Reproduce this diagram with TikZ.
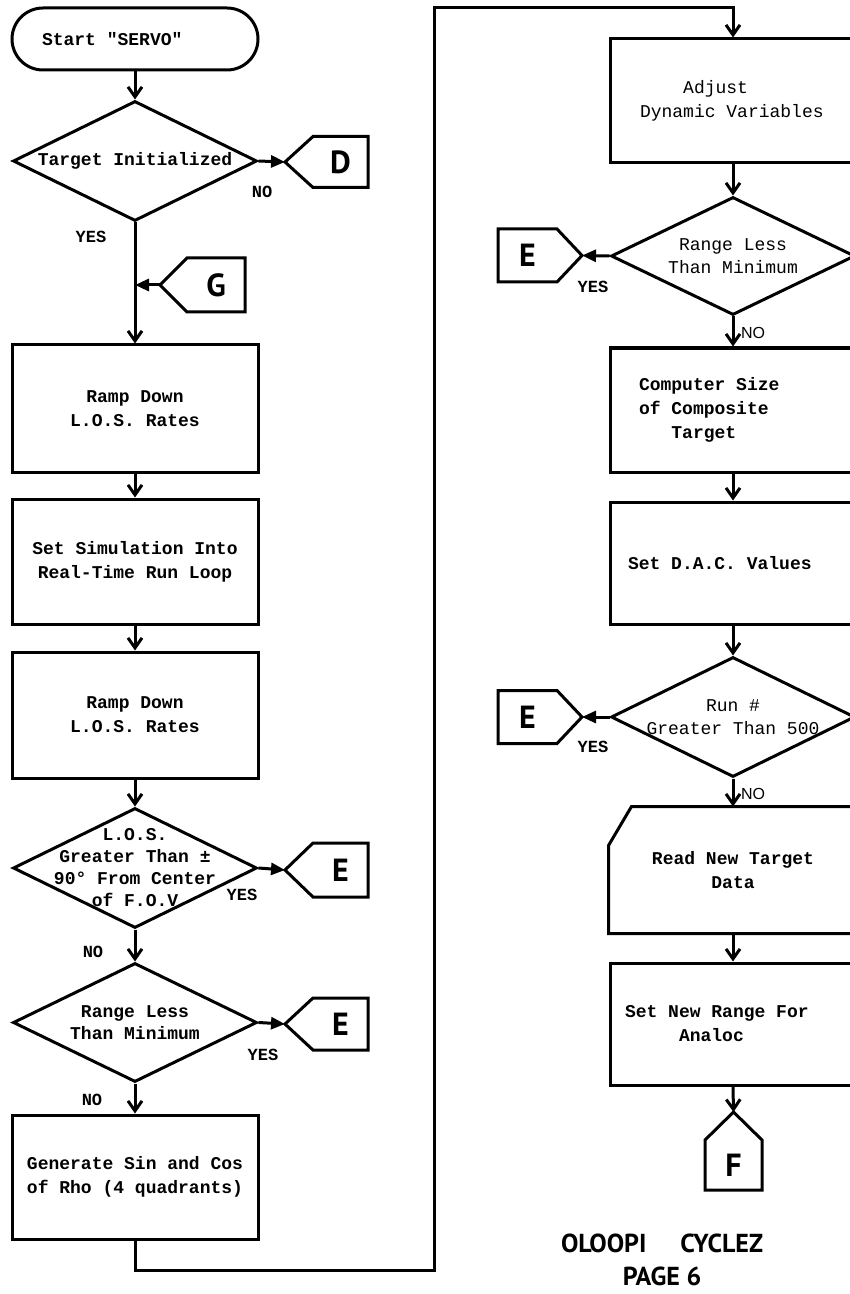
\documentclass[tikz,border=0pt]{standalone}
\usepackage{fontspec}
\setmonofont{Liberation Mono}
\setsansfont{Liberation Sans}
\newfontfamily\connfont{PT Sans}
\usetikzlibrary{arrows.meta,calc,shapes.geometric}
\tikzset{
  ln/.style={line width=1.5pt},
  flow/.style={ln,-{Straight Barb[length=5pt,width=7pt]}},
  tipa/.style={ln,-{Triangle[length=7pt,width=6pt]}},
  txt/.style={font=\ttfamily\bfseries\fontsize{9}{12}\selectfont},
  reg/.style={font=\ttfamily\fontsize{9}{12}\selectfont},
  box/.style={draw,ln,rectangle,minimum width=123pt,inner sep=0pt,txt,align=center},
  dia/.style={draw,ln,diamond,minimum width=122pt,minimum height=60pt,inner sep=0pt},
  lbl/.style={txt,align=center,inner sep=0pt,font=\ttfamily\bfseries\fontsize{9}{11}\selectfont},
  lblr/.style={align=center,inner sep=0pt,font=\ttfamily\fontsize{9}{11.5}\selectfont},
  conn/.style={rectangle,inner sep=0pt,outer sep=0pt,font=\connfont\bfseries\fontsize{16}{16}\selectfont},
  yn/.style={inner sep=0pt,font=\ttfamily\bfseries\fontsize{8.5}{9}\selectfont},
  ynr/.style={inner sep=0pt,font=\sffamily\fontsize{8}{9}\selectfont},
  ttl/.style={inner sep=0pt,align=center,font=\connfont\bfseries\fontsize{13}{16.5}\selectfont}
}
\begin{document}
\begin{tikzpicture}[x=0.5pt,y=-0.5pt]
\useasboundingbox (0,0) rectangle (850,1294);
\fill[white] (0,0) rectangle (850,1294);
\clip (0,0) rectangle (850,1294);

% ---------------- left column ----------------
\node[box,rounded corners=15.5pt,minimum height=31pt,text width=93pt,align=flush left,inner xsep=15pt] (start) at (135,39) {Start "SERVO"};
\node[dia,label={[lbl]center:{Target Initialized}}] (d1) at (135,161) {};
\node[conn,minimum width=27.5pt,minimum height=25.5pt] (D) at (340.5,162) {D};
\draw[ln] (D.north east) -- (D.north west) -- ($(D.west)+(-28,0)$) coordinate (Dt) -- (D.south west) -- (D.south east) -- cycle;
\node[yn] (d1no) at (262,192) {NO};
\node[yn] (d1yes) at (91,237) {YES};

\node[conn,minimum width=29pt,minimum height=27pt] (G) at (216,285) {G};
\draw[ln] (G.north east) -- (G.north west) -- ($(G.west)+(-27,0)$) coordinate (Gt) -- (G.south west) -- (G.south east) -- cycle;

\node[box,minimum height=63.5pt] (b1) at (135,408.5) {Ramp Down\\L.O.S. Rates};
\node[box,minimum height=62.5pt] (b2) at (135,561.5) {Set Simulation Into\\Real-Time Run Loop};
\node[box,minimum height=63pt] (b3) at (135,715) {Ramp Down\\L.O.S. Rates};

\node[dia,label={[lbl]center:{L.O.S.\\Greater Than ±\\90° From Center\\of F.O.V}}] (d2) at (135,868) {};
\node[conn,minimum width=27.5pt,minimum height=27pt] (E2) at (340.5,870) {E};
\draw[ln] (E2.north east) -- (E2.north west) -- ($(E2.west)+(-28,0)$) coordinate (E2t) -- (E2.south west) -- (E2.south east) -- cycle;
\node[yn] (d2yes) at (242,895) {YES};
\node[yn] (d2no) at (93,952) {NO};

\node[dia,minimum height=59.5pt,label={[lbl]center:{Range Less\\Than Minimum}}] (d3) at (135,1022.5) {};
\node[conn,minimum width=27.5pt,minimum height=26pt] (E3) at (340.5,1024) {E};
\draw[ln] (E3.north east) -- (E3.north west) -- ($(E3.west)+(-28,0)$) coordinate (E3t) -- (E3.south west) -- (E3.south east) -- cycle;
\node[yn] (d3yes) at (263,1055) {YES};
\node[yn] (d3no) at (92,1100) {NO};

\node[box,minimum height=62pt] (b4) at (135,1177) {Generate Sin and Cos\\of Rho (4 quadrants)};

% ---------------- right column ----------------
\node[box,reg,minimum height=62pt,text width=93pt,align=flush left,inner xsep=15pt] (r1) at (733,101) {\phantom{xxxx}Adjust\\Dynamic Variables};
\node[dia,minimum height=59pt,label={[lblr]center:{Range Less\\Than Minimum}}] (rd1) at (733,256) {};
\node[conn,minimum width=29.5pt,minimum height=26.5pt] (ER1) at (527.5,255.5) {E};
\draw[ln] (ER1.north west) -- (ER1.north east) -- ($(ER1.east)+(25,0)$) coordinate (ER1t) -- (ER1.south east) -- (ER1.south west) -- cycle;
\node[yn] (rd1yes) at (593,287) {YES};
\node[ynr] (rd1no) at (753,333) {NO};

\node[box,minimum height=62pt,text width=94pt,align=flush left,inner xsep=14.5pt] (r2) at (733,410) {Computer Size\\of Composite\\\phantom{xxx}Target};
\node[box,minimum height=61pt,text width=105pt,align=flush left,inner xsep=9pt] (r3) at (733,563) {Set D.A.C. Values};

\node[dia,label={[lblr]center:{Run \#\\Greater Than 500}}] (rd2) at (733,717) {};
\node[conn,minimum width=29.5pt,minimum height=26.5pt] (ER2) at (527.5,717) {E};
\draw[ln] (ER2.north west) -- (ER2.north east) -- ($(ER2.east)+(25,0)$) coordinate (ER2t) -- (ER2.south east) -- (ER2.south west) -- cycle;
\node[yn] (rd2yes) at (593,747) {YES};
\node[ynr] (rd2no) at (753,794) {NO};

\node[box,draw=none,minimum height=62pt] (r4) at (733,870) {Read New Target\\Data};
\draw[ln] (r4.north east) -- ($(r4.north west)+(23,0)$) -- ($(r4.north west)+(0,39)$) -- (r4.south west) -- (r4.south east);

\node[box,minimum height=61pt,text width=108pt,align=flush left,inner xsep=7.5pt] (r5) at (733,1024) {Set New Range For\\\phantom{xxxxx}Analoc};

\node[conn,minimum width=28.5pt,minimum height=25pt] (F) at (733.5,1165) {F};
\draw[ln] (F.south west) -- (F.north west) -- ($(F.north)+(0,-28)$) coordinate (Ft) -- (F.north east) -- (F.south east) -- cycle;

\node[ttl] (title) at (662,1260) {OLOOPI\hspace{1.3em}CYCLEZ\\PAGE 6};

% ---------------- connectors ----------------
\draw[flow] (start.south) -- (d1.north);
\draw[tipa] (d1.east) -- (Dt);
\draw[flow] (d1.south) -- (b1.north);
\draw[tipa] (Gt) -- (Gt -| d1.south);
\draw[flow] (b1.south) -- (b2.north);
\draw[flow] (b2.south) -- (b3.north);
\draw[flow] (b3.south) -- (d2.north);
\draw[tipa] (d2.east) -- (E2t);
\draw[flow] (d2.south) -- (d3.north);
\draw[tipa] (d3.east) -- (E3t);
\draw[flow] (d3.south) -- (b4.north);
\coordinate (loopA) at (434,1270);
\coordinate (loopB) at (434,8);
\draw[flow] (b4.south) |- (loopA) -- (loopB) -| (r1.north);
\draw[flow] (r1.south) -- (rd1.north);
\draw[tipa] (rd1.west) -- (ER1t);
\draw[flow] (rd1.south) -- (r2.north);
\draw[flow] (r2.south) -- (r3.north);
\draw[flow] (r3.south) -- (rd2.north);
\draw[tipa] (rd2.west) -- (ER2t);
\draw[flow] (rd2.south) -- (r4.north);
\draw[flow] (r4.south) -- (r5.north);
\draw[flow] (r5.south) -- (Ft);
\end{tikzpicture}
\end{document}
